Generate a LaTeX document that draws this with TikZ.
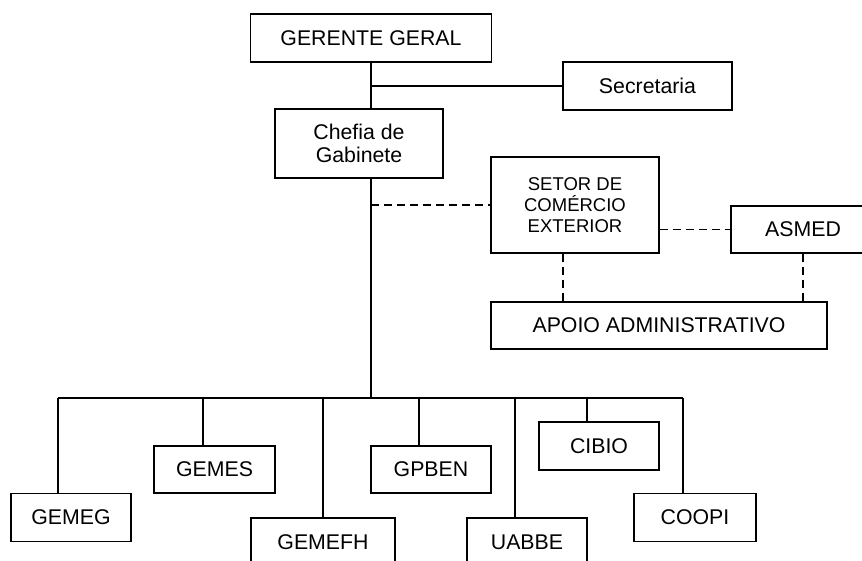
\documentclass[tikz,border=0pt]{standalone}
\usepackage{fontspec}
\setmainfont{Liberation Sans}
\usetikzlibrary{positioning, calc}

\begin{document}
\begin{tikzpicture}[x=1pt, y=-1pt, line width=1.4pt,
  unit/.style={draw, rectangle, inner sep=0pt, align=center, minimum width=120pt, minimum height=48pt, font=\fontsize{21.3}{23}\selectfont},
  link/.style={dash pattern=on 8pt off 5pt}]
\useasboundingbox (0,0) rectangle (862,561);
\clip (0,0) rectangle (862,561);

% top of the chart
\node[unit, minimum width=241pt] (gerente) at (371,38) {GERENTE GERAL};
\node[unit, minimum width=169pt] (secretaria) at (647.5,86) {Secretaria};
\node[unit, minimum width=168pt, minimum height=69pt] (chefia) at (359,143.5) {Chefia de\\Gabinete};
\node[unit, minimum width=168pt, minimum height=96pt, font=\fontsize{18.5}{21}\selectfont] (setor) at (575,205) {SETOR DE\\COMÉRCIO\\EXTERIOR};
\node[unit, minimum width=144pt, minimum height=47pt] (asmed) at (803,229.5) {ASMED};
\node[unit, minimum width=336pt, minimum height=47pt] (apoio) at (659,325.5) {APOIO ADMINISTRATIVO};

% lower level
\node[unit] (gemeg) at (71,517.5) {GEMEG};
\node[unit, minimum width=121pt, minimum height=47pt] (gemes) at (214.5,469.5) {GEMES};
\node[unit, minimum width=144pt] (gemefh) at (323,542) {GEMEFH};
\node[unit, minimum height=47pt] (gpben) at (431,469.5) {GPBEN};
\node[unit] (uabbe) at (527,542) {UABBE};
\node[unit] (cibio) at (599,446) {CIBIO};
\node[unit, minimum width=122pt] (coopi) at (695,517.5) {COOPI};

\draw (gerente.south) -- (gerente.south |- chefia.north);
\draw (gerente.south |- secretaria.west) -- (secretaria.west);

\coordinate (bus) at (371,398);
\draw (gerente.south |- chefia.south) -- (bus);

% dashed links
\draw[link] (setor.west -| bus) -- (setor.west);
\draw[link] (asmed.west -| setor.east) -- (asmed.west);
\draw[link] ([xshift=-12pt]setor.south) -- ([xshift=-12pt]setor.south |- apoio.north);
\draw[link] (asmed.south) -- (asmed.south |- apoio.north);

% branches
\foreach \n/\x in {gemeg/58, gemes/203, gemefh/323, gpben/419, uabbe/515, cibio/587, coopi/683}
  \coordinate (d\n) at (\x,398);
\draw (dgemeg) -- (dcoopi);
\foreach \n in {gemeg, gemes, gemefh, gpben, uabbe, cibio, coopi}
  \draw (d\n) -- (d\n |- \n.north);
\end{tikzpicture}
\end{document}
